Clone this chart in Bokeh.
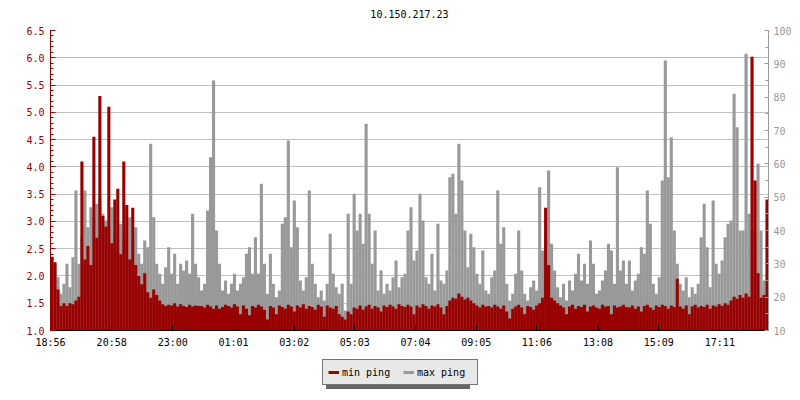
from bokeh.plotting import figure
from bokeh.layouts import column
from bokeh.models import (Range1d, LinearAxis, FixedTicker, SingleIntervalTicker,
                          PrintfTickFormatter, Legend, LegendItem, ColumnDataSource, Label)
from bokeh.embed import file_html
from bokeh.resources import INLINE

# ---------------- data ----------------
TITLE = "10.150.217.23"
START = "18:56"
SPAN_MIN = 1432          # minutes shown on the time axis

time_labels = ["18:56", "20:58", "23:00", "01:01", "03:02", "05:03",
               "07:04", "09:05", "11:06", "13:08", "15:09", "17:11"]

series_names = ["min ping", "max ping"]

# min ping (left axis, ms)
min_ping = [
    2.35, 2.25, 1.75, 1.45, 1.50, 1.45, 1.50, 1.48, 1.55, 1.62,
    4.10, 2.30, 2.55, 2.20, 4.55, 2.70, 5.30, 3.10, 2.90, 5.10,
    2.60, 3.40, 3.60, 2.40, 4.10, 3.30, 2.30, 3.25, 2.20, 2.00,
    1.85, 2.05, 1.70, 1.60, 1.75, 1.65, 1.55, 1.48, 1.45, 1.47,
    1.46, 1.50, 1.44, 1.48, 1.45, 1.43, 1.47, 1.44, 1.46, 1.45,
    1.45, 1.42, 1.47, 1.44, 1.40, 1.46, 1.40, 1.43, 1.47, 1.45,
    1.42, 1.48, 1.44, 1.30, 1.46, 1.40, 1.28, 1.45, 1.42, 1.47,
    1.44, 1.38, 1.20, 1.45, 1.42, 1.30, 1.46, 1.43, 1.40, 1.47,
    1.44, 1.35, 1.46, 1.42, 1.48, 1.40, 1.45, 1.43, 1.38, 1.47,
    1.44, 1.25, 1.46, 1.42, 1.40, 1.45, 1.30, 1.25,
    1.20, 1.35, 1.30, 1.42, 1.40, 1.46, 1.38, 1.44, 1.47, 1.40,
    1.45, 1.42, 1.35, 1.46, 1.43, 1.47, 1.44, 1.40, 1.48, 1.45,
    1.43, 1.47, 1.44, 1.30, 1.46, 1.42, 1.48, 1.45, 1.40, 1.46,
    1.44, 1.48, 1.42, 1.30, 1.45, 1.55, 1.60, 1.58, 1.68, 1.62,
    1.57, 1.60, 1.55, 1.50, 1.46, 1.42, 1.47, 1.44,
    1.45, 1.42, 1.47, 1.44, 1.40, 1.46, 1.35, 1.22, 1.40, 1.44,
    1.47, 1.42, 1.30, 1.45, 1.43, 1.38, 1.46, 1.50, 1.60, 3.25,
    2.20, 1.60, 1.55, 1.50, 1.46, 1.42, 1.30, 1.44, 1.47, 1.40,
    1.45, 1.43, 1.47, 1.35, 1.44, 1.46, 1.42, 1.40, 1.47, 1.44,
    1.45, 1.30, 1.46, 1.42, 1.44, 1.47, 1.43,
    1.42, 1.46, 1.40, 1.44, 1.35, 1.45, 1.47, 1.42, 1.38, 1.46,
    1.43, 1.47, 1.45, 1.40, 1.46, 1.43, 1.95, 1.44, 1.40, 1.46,
    1.30, 1.44, 1.47, 1.42, 1.45, 1.43, 1.47, 1.40, 1.46, 1.44,
    1.48, 1.45, 1.50, 1.47, 1.55, 1.62, 1.58, 1.65, 1.60, 1.68,
    1.62, 6.02, 3.75, 2.05, 1.60, 1.65, 3.40,
]

# max ping (right axis, ms)
max_ping = [
    32, 30, 26, 21, 24, 30, 23, 32, 52, 30,
    38, 52, 41, 47, 44, 48, 50, 45, 43, 41,
    47, 40, 35, 42, 37, 39, 44, 36, 41, 33,
    30, 37, 35, 66, 44, 30, 27, 24, 29, 35,
    27, 33, 24, 30, 28, 31, 27, 45, 30, 26,
    22, 24, 46, 62, 85, 40, 30, 22, 25, 21,
    24, 27, 22, 24, 26, 33, 35, 27, 38, 27,
    54, 30, 21, 33, 24, 20, 22, 42, 44, 67,
    35, 49, 41, 25, 22, 26, 52, 30, 24, 20,
    22, 19, 24, 39, 27, 23, 21, 24,
    16, 45, 24, 51, 40, 45, 36, 72, 45, 30,
    40, 22, 28, 21, 24, 22, 26, 31, 23, 26,
    27, 40, 47, 31, 34, 51, 43, 26, 24, 33,
    22, 42, 25, 24, 28, 56, 57, 45, 66, 55,
    40, 29, 39, 35, 27, 24, 34, 22,
    21, 26, 28, 52, 36, 41, 24, 19, 21, 27,
    40, 28, 21, 19, 23, 25, 22, 53, 34, 40,
    58, 36, 28, 23, 20, 24, 19, 25, 22, 27,
    33, 25, 30, 24, 37, 30, 21, 22, 25, 28,
    36, 34, 24, 59, 28, 31, 24,
    31, 22, 25, 27, 35, 33, 52, 42, 24, 21,
    26, 55, 91, 56, 68, 40, 30, 24, 22, 26,
    20, 23, 21, 24, 38, 48, 35, 23, 49, 30,
    27, 31, 38, 42, 43, 81, 71, 40, 40, 93,
    45, 40, 39, 60, 40, 25, 22,
]

# ---------------- helpers ----------------
def minutes_since_start(label):
    h, m = map(int, label.split(":"))
    sh, sm = map(int, START.split(":"))
    return ((h * 60 + m) - (sh * 60 + sm)) % 1440

n = len(min_ping)
step = SPAN_MIN / n
xs = [step * (i + 0.5) for i in range(n)]
tick_pos = [minutes_since_start(t) for t in time_labels]

RED = "#990000"
GREY = "#999999"
FONT = "DejaVu Sans Mono"
FS = "10px"
W = 796

def strip(height):
    f = figure(width=W, height=height, x_range=Range1d(0, 1), y_range=Range1d(0, height),
               x_axis_location=None, y_axis_location=None,
               output_backend="svg", toolbar_location=None,
               min_border_left=0, min_border_right=0, min_border_top=0, min_border_bottom=0)
    f.grid.visible = False
    f.outline_line_color = None
    f.border_fill_color = "white"
    return f

# ---------------- title strip ----------------
tf = strip(22)
tf.add_layout(Label(x=0.5, y=8.5, text=TITLE, text_align="center", text_baseline="middle",
                    text_font=FONT, text_font_size=FS, text_color="black"))

# ---------------- main chart ----------------
p = figure(width=W, height=328, x_range=Range1d(0, SPAN_MIN), y_range=Range1d(1.0, 6.5),
           output_backend="svg", toolbar_location=None,
           min_border_left=50, min_border_right=28, min_border_top=8, min_border_bottom=20)
p.extra_y_ranges = {"ms": Range1d(10, 100)}
p.outline_line_color = None
p.background_fill_color = "white"
p.border_fill_color = "white"

src = ColumnDataSource(dict(x=xs, mn=min_ping, mx=max_ping))
p.vbar(x="x", width=step * 1.04, top="mx", bottom=10, y_range_name="ms", source=src,
       fill_color=GREY, line_color=None)
p.vbar(x="x", width=step * 1.04, top="mn", bottom=1.0, source=src,
       fill_color=RED, line_color=None)

# x axis
xa = p.xaxis[0]
xa.ticker = FixedTicker(ticks=tick_pos, minor_ticks=[])
xa.major_label_overrides = {tp: lab for tp, lab in zip(tick_pos, time_labels)}
xa.axis_line_color = "black"
xa.major_tick_line_color = "black"
xa.major_tick_in = 5
xa.major_tick_out = 0
xa.minor_tick_line_color = None
xa.major_label_text_font = FONT
xa.major_label_text_font_size = FS
xa.major_label_text_color = "black"
xa.major_label_standoff = 6
p.xgrid.visible = False

# left axis
ya = p.yaxis[0]
lt = SingleIntervalTicker(interval=0.5, num_minor_ticks=5)
ya.ticker = lt
ya.formatter = PrintfTickFormatter(format="%.1f")
ya.axis_line_color = RED
ya.major_tick_line_color = RED
ya.minor_tick_line_color = RED
ya.major_tick_in = 5
ya.major_tick_out = 0
ya.minor_tick_in = 3
ya.minor_tick_out = 0
ya.major_label_text_font = FONT
ya.major_label_text_font_size = FS
ya.major_label_text_color = RED
ya.major_label_standoff = 6
p.ygrid.ticker = lt
p.ygrid.grid_line_color = "#c0c0c0"

# right axis
ra = LinearAxis(y_range_name="ms", ticker=SingleIntervalTicker(interval=10, num_minor_ticks=2))
ra.axis_line_color = GREY
ra.major_tick_line_color = GREY
ra.minor_tick_line_color = GREY
ra.major_tick_in = 4
ra.major_tick_out = 0
ra.minor_tick_in = 3
ra.minor_tick_out = 0
ra.major_label_text_font = FONT
ra.major_label_text_font_size = FS
ra.major_label_text_color = GREY
ra.major_label_standoff = 5
p.add_layout(ra, "right")

# ---------------- legend strip (with drop shadow) ----------------
lg = strip(46)

# legend key renderers: same series, drawn outside the strip's visible range
key_src = ColumnDataSource(dict(x=[-2.0] * n, mn=min_ping, mx=max_ping))
k_min = lg.line(x="x", y="mn", source=key_src, line_color=RED, line_width=3)
k_max = lg.line(x="x", y="mx", source=key_src, line_color=GREY, line_width=3)

def make_legend(loc, bg, border, txt):
    return Legend(items=[LegendItem(label=series_names[0], renderers=[k_min]),
                         LegendItem(label=series_names[1], renderers=[k_max])],
                  location=loc, orientation="horizontal", margin=0, padding=5,
                  spacing=6, glyph_width=11, glyph_height=14, label_height=14,
                  label_width=55, label_standoff=3,
                  label_text_font=FONT, label_text_font_size=FS, label_text_color=txt,
                  background_fill_color=bg, background_fill_alpha=1.0,
                  border_line_color=border, border_line_width=1)

# the strip's frame is aligned with the chart's frame (which starts at x=50)
lg.add_layout(make_legend((276, 7), "#666666", None, "#666666"), "center")
lg.add_layout(make_legend((272, 11), "#e8e8e8", "black", "black"), "center")

layout = column(tf, p, lg, spacing=0)
open("out.html", "w").write(file_html(layout, INLINE))
